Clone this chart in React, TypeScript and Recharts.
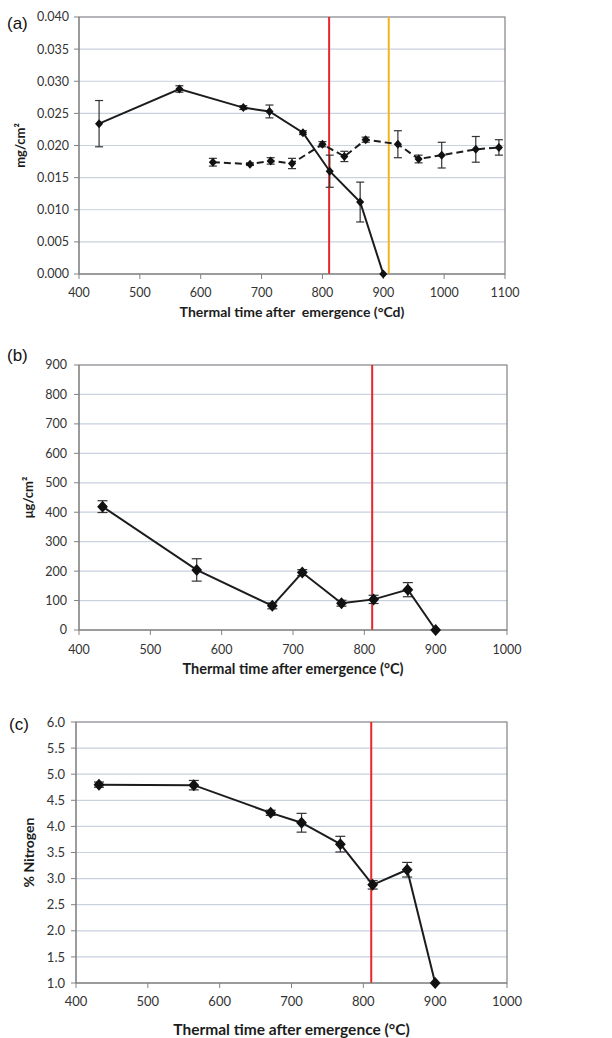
import React from "react";
import {
  LineChart,
  Line,
  XAxis,
  YAxis,
  CartesianGrid,
  ErrorBar,
  ReferenceLine,
  ReferenceArea,
  Label,
} from "recharts";

// (a) leaf mass per area, two series
const aTimeSolid = [433, 565, 670, 713, 768, 812, 862, 900];
const aMassSolid = [0.0234, 0.0288, 0.0259, 0.0253, 0.022, 0.016, 0.0112, 0.0];
const aErrSolid = [0.0036, 0.0005, 0.0003, 0.001, 0.0003, 0.0025, 0.0031, 0.0];

const aTimeDashed = [620, 681, 715, 750, 800, 836, 871, 924, 958, 996, 1052, 1090];
const aMassDashed = [0.0174, 0.0171, 0.0176, 0.0172, 0.0202, 0.0183, 0.0209, 0.0202, 0.0179, 0.0185, 0.0194, 0.0197];
const aErrDashed = [0.0006, 0.0002, 0.0005, 0.0008, 0.0004, 0.0008, 0.0004, 0.0021, 0.0006, 0.002, 0.002, 0.0012];

// (b) chlorophyll
const bTime = [433, 565, 671, 713, 768, 813, 861, 900];
const bConc = [419, 204, 82, 195, 91, 104, 137, 0];
const bErr = [20, 38, 10, 10, 10, 14, 24, 0];

// (c) nitrogen
const cTime = [432, 564, 671, 714, 768, 813, 861, 900];
const cNitrogen = [4.8, 4.79, 4.26, 4.07, 3.66, 2.88, 3.17, 1.0];
const cErr = [0.05, 0.09, 0.05, 0.18, 0.15, 0.08, 0.14, 0];

const aXTicks = [400, 500, 600, 700, 800, 900, 1000, 1100];
const aYTicks = [0, 0.005, 0.01, 0.015, 0.02, 0.025, 0.03, 0.035, 0.04];
const bcXTicks = [400, 500, 600, 700, 800, 900, 1000];
const bYTicks = [0, 100, 200, 300, 400, 500, 600, 700, 800, 900];
const cYTicks = [1, 1.5, 2, 2.5, 3, 3.5, 4, 4.5, 5, 5.5, 6];

const redLineAt = 811;
const orangeLineAt = 909;

const FONT = "Lato, 'Open Sans', sans-serif";
const GRID = "#c9d1dd";
const FRAME = "#828282";
const INK = "#1c1c1c";

const toRows = (t: number[], v: number[], e: number[]) =>
  t.map((x, i) => ({ t: x, v: v[i], e: e[i] }));

function diamondDot(r: number) {
  return (p: any) => {
    const { cx, cy, index } = p;
    if (cx == null || cy == null) return <g key={`n${index}`} />;
    const w = r * 0.9;
    return (
      <polygon
        key={`d${index}`}
        points={`${cx},${cy - r} ${cx + w},${cy} ${cx},${cy + r} ${cx - w},${cy}`}
        fill="#111"
      />
    );
  };
}

const tickStyle = (size: number) => ({ fill: "#333", fontSize: size, fontFamily: FONT });

const panelTag: React.CSSProperties = {
  position: "absolute",
  fontFamily: "'Liberation Sans', Arial, sans-serif",
  fontSize: 17,
  lineHeight: "17px",
  color: "#111",
};

export default function App() {
  const aSolid = toRows(aTimeSolid, aMassSolid, aErrSolid);
  const aDashed = toRows(aTimeDashed, aMassDashed, aErrDashed);
  const bRows = toRows(bTime, bConc, bErr);
  const cRows = toRows(cTime, cNitrogen, cErr);

  return (
    <div style={{ position: "absolute", left: 0, top: 0, width: 612, height: 1038, background: "#fff", overflow: "hidden" }}>
      <div style={{ ...panelTag, left: 7, top: 15 }}>(a)</div>
      <div style={{ ...panelTag, left: 7, top: 347 }}>(b)</div>
      <div style={{ ...panelTag, left: 9, top: 716 }}>(c)</div>

      {/* (a) */}
      <div style={{ position: "absolute", left: 0, top: 0 }}>
        <LineChart width={612} height={340} margin={{ top: 17, right: 107, bottom: 16, left: 0 }}>
          <CartesianGrid vertical={false} stroke={GRID} strokeWidth={1.2} />
          <XAxis
            type="number"
            dataKey="t"
            domain={[400, 1100]}
            ticks={aXTicks}
            tick={tickStyle(12.5)}
            tickSize={5}
            tickMargin={9}
            stroke={FRAME}
            height={50}
          >
            <Label
              value={"Thermal time after\u00a0 emergence (°Cd)"}
              position="insideBottom"
              offset={7}
              fill={INK}
              fontSize={14}
              fontWeight={700}
              fontFamily={FONT}
            />
          </XAxis>
          <YAxis
            type="number"
            domain={[0, 0.04]}
            ticks={aYTicks}
            tickFormatter={(v: number) => v.toFixed(3)}
            tick={tickStyle(12.5)}
            tickSize={5}
            tickMargin={5}
            stroke={FRAME}
            width={79}
          >
            <Label
              value="mg/cm²"
              angle={-90}
              position="insideLeft"
              offset={20}
              fill={INK}
              fontSize={13}
              fontWeight={700}
              fontFamily={FONT}
              style={{ textAnchor: "middle" }}
            />
          </YAxis>
          <ReferenceArea x1={400} x2={1100} y1={0} y2={0.04} fill="none" stroke={FRAME} strokeWidth={1.2} />
          <ReferenceLine x={redLineAt} stroke="#e8262b" strokeWidth={2} />
          <ReferenceLine x={orangeLineAt} stroke="#f6b41c" strokeWidth={2} />
          <Line
            data={aDashed}
            dataKey="v"
            stroke={INK}
            strokeWidth={2}
            strokeDasharray="7 4"
            dot={diamondDot(4.5)}
            activeDot={false}
            isAnimationActive={false}
          >
            <ErrorBar dataKey="e" direction="y" width={4} stroke="#333" strokeWidth={1.2} />
          </Line>
          <Line
            data={aSolid}
            dataKey="v"
            stroke={INK}
            strokeWidth={2}
            dot={diamondDot(4.5)}
            activeDot={false}
            isAnimationActive={false}
          >
            <ErrorBar dataKey="e" direction="y" width={4} stroke="#333" strokeWidth={1.2} />
          </Line>
        </LineChart>
      </div>

      {/* (b) */}
      <div style={{ position: "absolute", left: 0, top: 340 }}>
        <LineChart width={612} height={350} margin={{ top: 25, right: 105, bottom: 10, left: 0 }}>
          <CartesianGrid vertical={false} stroke={GRID} strokeWidth={1.2} />
          <XAxis
            type="number"
            dataKey="t"
            domain={[400, 1000]}
            ticks={bcXTicks}
            tick={tickStyle(12.5)}
            tickSize={5}
            tickMargin={10}
            stroke={FRAME}
            height={50}
          >
            <Label
              value="Thermal time after emergence (°C)"
              position="insideBottom"
              offset={6}
              fill={INK}
              fontSize={14.5}
              fontWeight={700}
              fontFamily={FONT}
            />
          </XAxis>
          <YAxis
            type="number"
            domain={[0, 900]}
            ticks={bYTicks}
            tick={tickStyle(12.5)}
            tickSize={5}
            tickMargin={7}
            stroke={FRAME}
            width={79}
          >
            <Label
              value="μg/cm²"
              angle={-90}
              position="insideLeft"
              offset={28}
              fill={INK}
              fontSize={13}
              fontWeight={700}
              fontFamily={FONT}
              style={{ textAnchor: "middle" }}
            />
          </YAxis>
          <ReferenceArea x1={400} x2={1000} y1={0} y2={900} fill="none" stroke={FRAME} strokeWidth={1.2} />
          <ReferenceLine x={redLineAt} stroke="#e8262b" strokeWidth={2} />
          <Line
            data={bRows}
            dataKey="v"
            stroke={INK}
            strokeWidth={2}
            dot={diamondDot(6)}
            activeDot={false}
            isAnimationActive={false}
          >
            <ErrorBar dataKey="e" direction="y" width={5} stroke="#333" strokeWidth={1.2} />
          </Line>
        </LineChart>
      </div>

      {/* (c) */}
      <div style={{ position: "absolute", left: 0, top: 690 }}>
        <LineChart width={612} height={348} margin={{ top: 32, right: 105, bottom: 0, left: 0 }}>
          <CartesianGrid vertical={false} stroke={GRID} strokeWidth={1.2} />
          <XAxis
            type="number"
            dataKey="t"
            domain={[400, 1000]}
            ticks={bcXTicks}
            tick={tickStyle(13)}
            tickSize={5}
            tickMargin={9}
            stroke={FRAME}
            height={55}
          >
            <Label
              value="Thermal time after emergence (°C)"
              position="insideBottom"
              offset={3}
              fill={INK}
              fontSize={15.5}
              fontWeight={700}
              fontFamily={FONT}
            />
          </XAxis>
          <YAxis
            type="number"
            domain={[1, 6]}
            ticks={cYTicks}
            tickFormatter={(v: number) => v.toFixed(1)}
            tick={tickStyle(13)}
            tickSize={5}
            tickMargin={6}
            stroke={FRAME}
            width={76}
          >
            <Label
              value="% Nitrogen"
              angle={-90}
              position="insideLeft"
              offset={29}
              fill={INK}
              fontSize={14}
              fontWeight={700}
              fontFamily={FONT}
              style={{ textAnchor: "middle" }}
            />
          </YAxis>
          <ReferenceArea x1={400} x2={1000} y1={1} y2={6} fill="none" stroke={FRAME} strokeWidth={1.2} />
          <ReferenceLine x={redLineAt} stroke="#e8262b" strokeWidth={2} />
          <Line
            data={cRows}
            dataKey="v"
            stroke={INK}
            strokeWidth={2}
            dot={diamondDot(6)}
            activeDot={false}
            isAnimationActive={false}
          >
            <ErrorBar dataKey="e" direction="y" width={5} stroke="#333" strokeWidth={1.2} />
          </Line>
        </LineChart>
      </div>
    </div>
  );
}
